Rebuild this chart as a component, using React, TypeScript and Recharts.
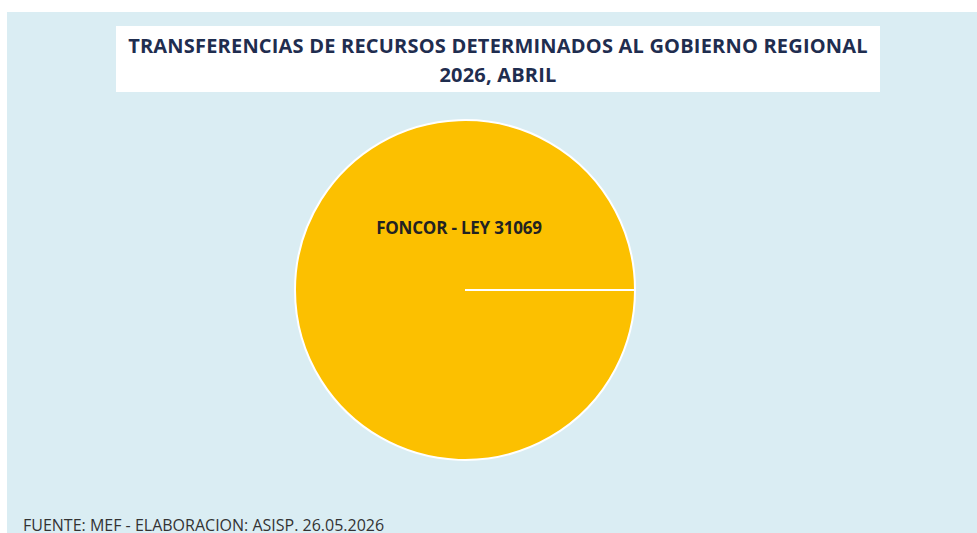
import React from "react";
import { PieChart, Pie, Cell } from "recharts";

const categories = ["FONCOR - LEY 31069"];
const values = [100];
const colors = ["#fcc000"];
const titleLines = ["TRANSFERENCIAS DE RECURSOS DETERMINADOS AL GOBIERNO REGIONAL", "2026, ABRIL"];
const footer = "FUENTE: MEF - ELABORACION: ASISP. 26.05.2026";

const data = categories.map((name, i) => ({ name, value: values[i] }));

const font = "'Open Sans', 'DejaVu Sans', sans-serif";

const renderLabel = (props: any) => {
  const { cx, cy, name } = props;
  return (
    <text
      x={cx - 6}
      y={cy - 63}
      textAnchor="middle"
      dominantBaseline="central"
      fill="#222222"
      fontFamily={font}
      fontWeight={700}
      fontSize={17}
      letterSpacing={-0.2}
    >
      {name}
    </text>
  );
};

export default function App() {
  return (
    <div style={{ position: "absolute", left: 0, top: 0, width: 977, height: 533, background: "#ffffff", overflow: "hidden" }}>
      <div style={{ position: "absolute", left: 7, top: 12, width: 970, height: 521, background: "#daedf3" }} />
      <div
        style={{
          position: "absolute",
          left: 116,
          top: 26,
          width: 764,
          height: 66,
          background: "#ffffff",
          color: "#1f2d4f",
          fontFamily: font,
          fontWeight: 700,
          fontSize: 20,
          textAlign: "center",
          lineHeight: "29px",
          paddingTop: 5,
          boxSizing: "border-box",
          letterSpacing: 0.2,
          whiteSpace: "nowrap",
        }}
      >
        <div>{titleLines[0]}</div>
        <div>{titleLines[1]}</div>
      </div>
      <div style={{ position: "absolute", left: 0, top: 0 }}>
        <PieChart width={977} height={533} margin={{ top: 0, right: 0, bottom: 0, left: 0 }}>
          <Pie
            data={data}
            dataKey="value"
            nameKey="name"
            cx={465}
            cy={290}
            outerRadius={170}
            startAngle={0}
            endAngle={360}
            stroke="#ffffff"
            strokeWidth={2}
            label={renderLabel}
            labelLine={false}
            isAnimationActive={false}
          >
            {data.map((d, i) => (
              <Cell key={d.name} fill={colors[i]} />
            ))}
          </Pie>
        </PieChart>
      </div>
      <div
        style={{
          position: "absolute",
          left: 23,
          top: 517,
          fontFamily: font,
          fontSize: 16,
          lineHeight: "16px",
          color: "#333333",
          whiteSpace: "nowrap",
        }}
      >
        {footer}
      </div>
    </div>
  );
}
